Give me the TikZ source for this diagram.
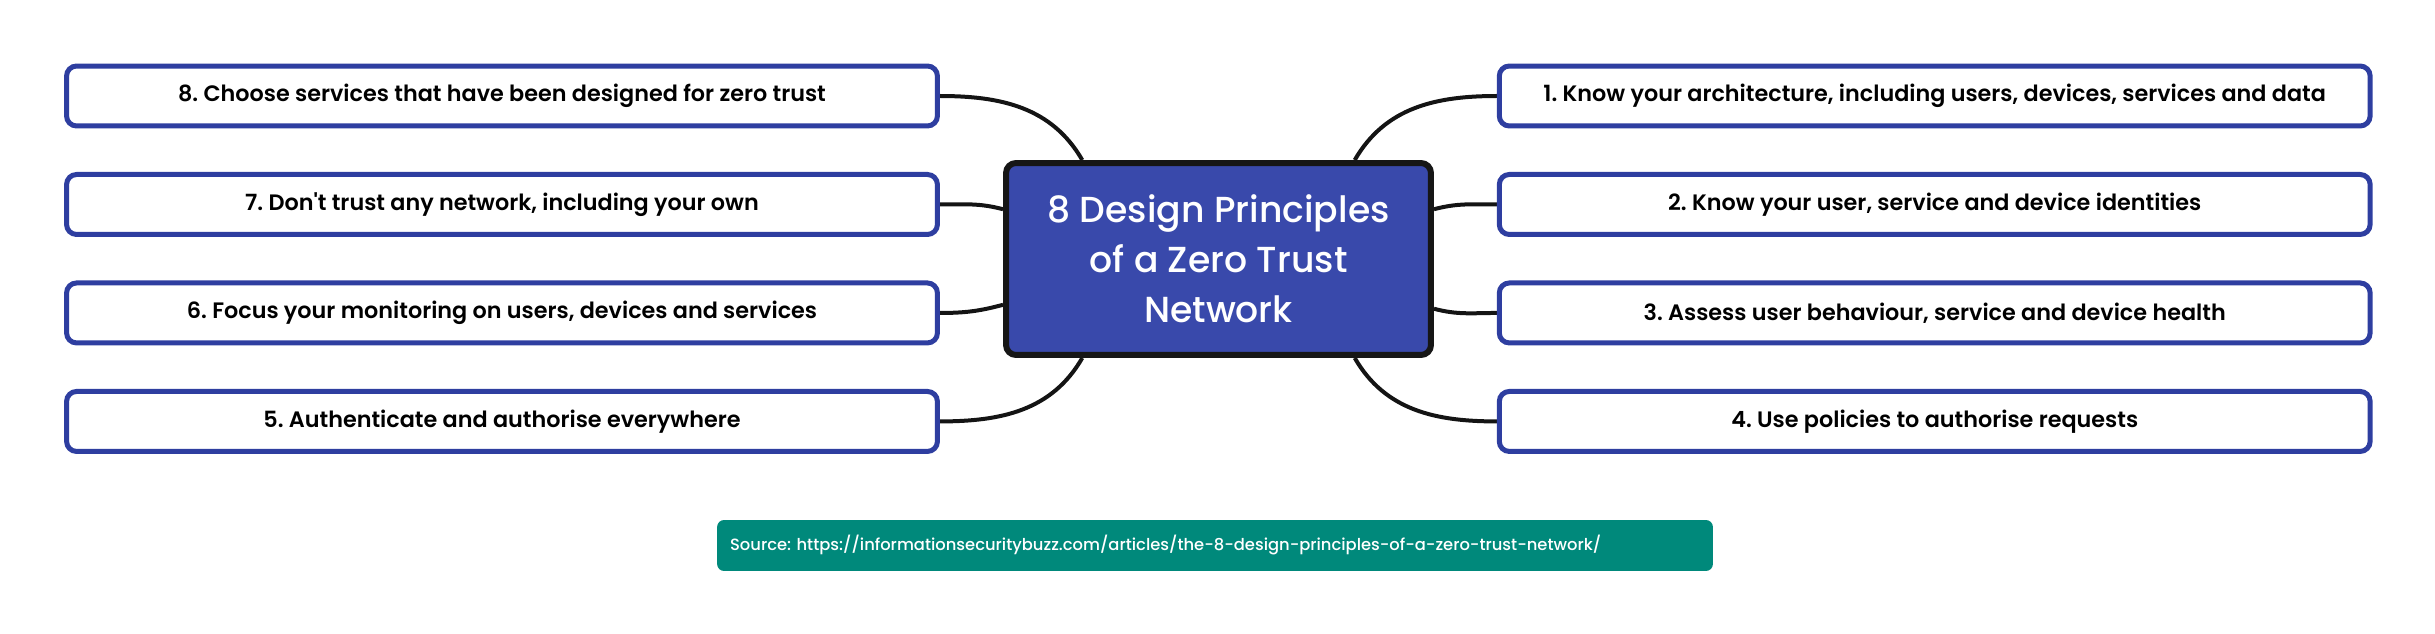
\documentclass[tikz,border=0pt]{standalone}
\usepackage{fontspec}
\usepackage{xcolor}
\usepackage{tikz}
\usetikzlibrary{positioning,backgrounds}
\newfontfamily\boxfont{Poppins SemiBold}
\newfontfamily\hubfont{Poppins Medium}
\definecolor{hubblue}{RGB}{57,73,171}
\definecolor{rimblue}{RGB}{46,62,160}
\definecolor{sourceteal}{RGB}{0,137,123}
\definecolor{hubrim}{RGB}{22,22,22}
\frenchspacing

\begin{document}
\begin{tikzpicture}[
        x=0.02cm, y=0.02cm,
        node distance=0.87cm and 11.14cm,
        principle/.style={rectangle, rounded corners=0.2cm, draw=rimblue, line width=0.1cm,
            fill=white, text=black,
            minimum width=17.42cm,
            minimum height=1.2cm,
            align=center, font=\boxfont\fontsize{12.7}{14}\selectfont},
        hub/.style={rectangle, rounded corners=0.2cm, draw=hubrim, line width=0.12cm,
            fill=hubblue, text=white,
            minimum width=8.5cm, minimum height=3.84cm,
            align=center, font=\hubfont\fontsize{20.6}{28.5}\selectfont},
        source/.style={rectangle, rounded corners=0.14cm, fill=sourceteal, text=white,
            text width=19.4cm, minimum height=1.02cm, inner sep=0.26cm,
            align=left, font=\hubfont\fontsize{9.3}{11}\selectfont},
        branch/.style={draw=black!92, line width=0.08cm}
    ]
        \useasboundingbox (0,0) rectangle (2435,633);

        \node[hub] (hub) at (1218.5,374) {8 Design Principles\\of a Zero Trust\\Network};

        \node[principle] (p8) at (502,537) {8. Choose services that have been designed for zero trust};
        \node[principle, below=of p8] (p7) {7. Don't trust any network, including your own};
        \node[principle, below=of p7] (p6) {6. Focus your monitoring on users, devices and services};
        \node[principle, below=of p6] (p5) {5. Authenticate and authorise everywhere};

        \node[principle, right=of p8] (p1) {1. Know your architecture, including users, devices, services and data};
        \node[principle, below=of p1] (p2) {2. Know your user, service and device identities};
        \node[principle, below=of p2] (p3) {3. Assess user behaviour, service and device health};
        \node[principle, below=of p3] (p4) {4. Use policies to authorise requests};

        \node[source] (src) at (1215,87.5) {Source: https://informationsecuritybuzz.com/articles/the-8-design-principles-of-a-zero-trust-network/};

        \begin{scope}[on background layer]
            \draw[branch] (p8.east) to[out=0, in=120] (hub.144);
            \draw[branch] (p7.east) to[out=0, in=165] (hub.167);
            \draw[branch] (p6.east) to[out=0, in=195] (hub.192);
            \draw[branch] (p5.east) to[out=0, in=240] (hub.216);
            \draw[branch] (p1.west) to[out=180, in=60] (hub.36);
            \draw[branch] (p2.west) to[out=180, in=15] (hub.13);
            \draw[branch] (p3.west) to[out=180, in=345] (hub.347);
            \draw[branch] (p4.west) to[out=180, in=300] (hub.324);
        \end{scope}
    \end{tikzpicture}
\end{document}
